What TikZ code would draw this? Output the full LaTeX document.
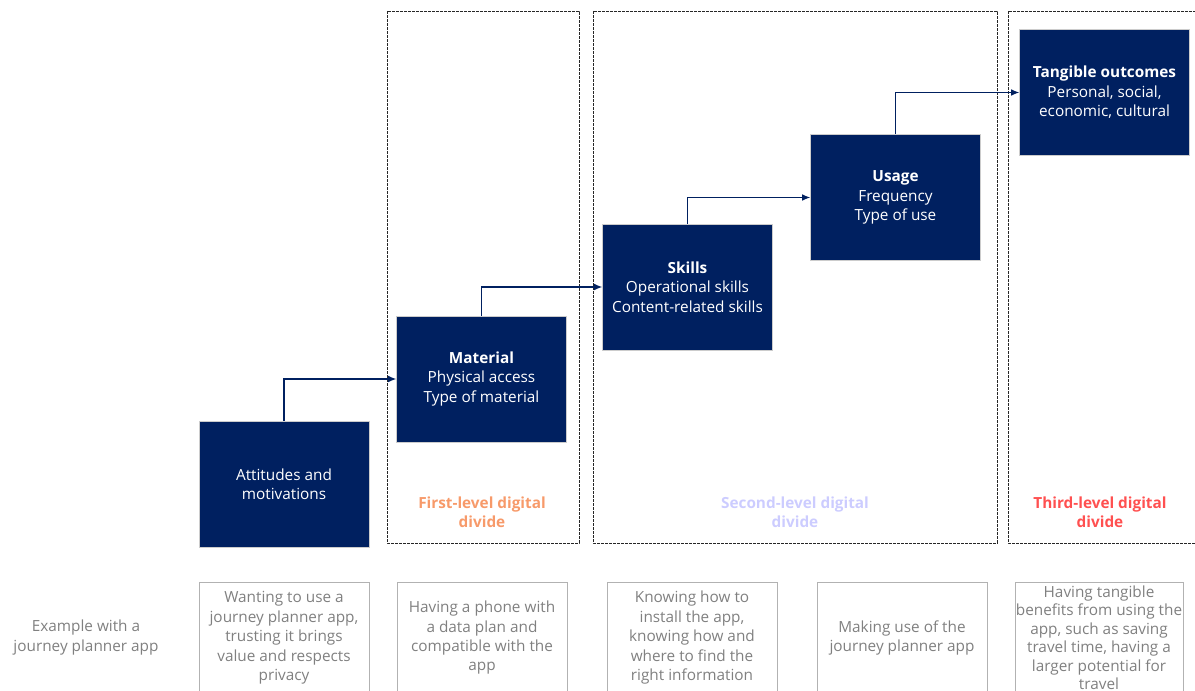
\documentclass[tikz,border=0pt]{standalone}
\usepackage{fontspec}
\setmainfont{Open Sans}
\usepackage{tikz}
\usetikzlibrary{arrows.meta,positioning}
\definecolor{ddnavy}{RGB}{0,32,96}
\definecolor{ddorange}{RGB}{247,154,106}
\definecolor{ddlilac}{RGB}{204,204,255}
\definecolor{ddred}{RGB}{255,80,80}
\definecolor{ddgrey}{RGB}{128,128,128}

\begin{document}
\begin{tikzpicture}[x=0.75pt, y=-0.75pt, font=\fontsize{11.5pt}{14.6pt}\selectfont,
    stage/.style={fill=ddnavy, draw=black!20, text=white, align=center,
      minimum width=127.5pt, minimum height=94.5pt, inner sep=2pt},
    example/.style={draw=black!30, text=ddgrey, align=center, anchor=north,
      minimum width=127.5pt, minimum height=83.25pt, inner sep=0pt},
    frame/.style={draw=black!85, dash pattern=on 2pt off 1pt, line width=0.5pt},
    divide/.style={font=\fontsize{11.5pt}{14.6pt}\selectfont\bfseries, align=center},
    flow/.style={-{Latex[length=6pt,width=5pt]}, draw=ddnavy, line width=0.9pt}]
  \useasboundingbox (0,0) rectangle (1195,691);
  % dashed frames of the three divides
  \draw[frame] (387,11) rectangle (579,543);
  \draw[frame] (593,11) rectangle (997,543);
  \draw[frame] (1008,11) rectangle (1210,543);
  \node[divide, text=ddorange] (first) at (482,512) {First-level digital\\divide};
  \node[divide, text=ddlilac] (second) at (795,512) {Second-level digital\\divide};
  \node[divide, text=ddred] (third) at (1100,512) {Third-level digital\\divide};
  % stages
  \node[stage] (att) at (284,484) {Attitudes and\\motivations};
  \node[stage] (mat) at (481.5,379) {\textbf{Material}\\Physical access\\Type of material};
  \node[stage] (ski) at (687.5,287) {\textbf{Skills}\\Operational skills\\Content-related skills};
  \node[stage] (use) at (895.5,197.5) {\textbf{Usage}\\Frequency\\Type of use};
  \node[stage] (tan) at (1104.5,92.5) {\textbf{Tangible outcomes}\\Personal, social,\\economic, cultural};
  \draw[flow] (att.north) |- (mat.west);
  \draw[flow] (mat.north) |- (ski.west);
  \draw[flow] (ski.north) |- (use.west);
  \draw[flow] (use.north) |- (tan.west);
  % example row
  \node[text=ddgrey, align=center] (exlabel) at (86,637.5) {Example with a\\journey planner app};
  \node[example] (ex1) at (284,582) {Wanting to use a\\journey planner app,\\trusting it brings\\value and respects\\privacy};
  \node[example] (ex2) at (482,582) {Having a phone with\\a data plan and\\compatible with the\\app};
  \node[example] (ex3) at (692,582) {Knowing how to\\install the app,\\knowing how and\\where to find the\\right information};
  \node[example] (ex4) at (902,582) {Making use of the\\journey planner app};
  \node[example, minimum width=126pt, font=\fontsize{11.5pt}{13.8pt}\selectfont] (ex5) at (1099,582) {Having tangible\\benefits from using the\\app, such as saving\\travel time, having a\\larger potential for\\travel};
\end{tikzpicture}
\end{document}
